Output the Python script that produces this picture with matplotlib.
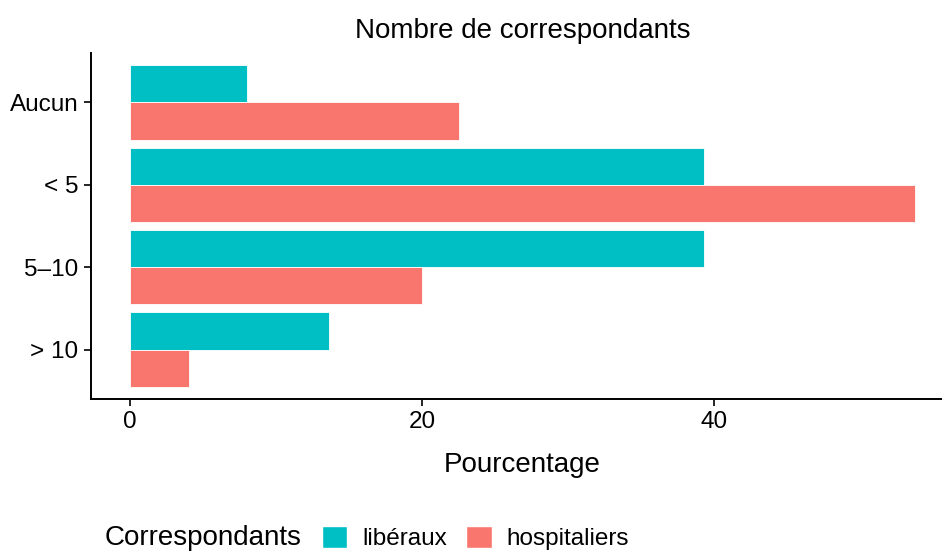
import matplotlib.pyplot as plt
from matplotlib.patches import Patch
import numpy as np

plt.rcParams['font.family'] = ['Liberation Sans', 'DejaVu Sans']

# Data
categories = ['Aucun', '< 5', '5–10', '> 10']
liberaux = [8.0, 39.3, 39.3, 13.6]
hospitaliers = [22.5, 53.7, 20.0, 4.0]
series_labels = ['libéraux', 'hospitaliers']
colors = ['#00BFC4', '#F8766D']

fig = plt.figure(figsize=(9.42, 5.51), dpi=100)
# axes run slightly past the right edge, like the cropped original
ax = fig.add_axes([91 / 942, 1 - 399 / 551, 863 / 942, (399 - 53) / 551])

y = np.arange(1, len(categories) + 1)
h = 0.45
ax.barh(y - h / 2, liberaux, height=h, color=colors[0], edgecolor='white', linewidth=0.6)
ax.barh(y + h / 2, hospitaliers, height=h, color=colors[1], edgecolor='white', linewidth=0.6)

ax.set_yticks(y)
ax.set_yticklabels(categories, fontsize=17.5)
ax.set_ylim(4.6, 0.4)
ax.set_xlim(-2.685, 56.4)
ax.set_xticks([0, 20, 40])
ax.tick_params(axis='x', labelsize=17.5, length=5, width=1.2, pad=4)
ax.tick_params(axis='y', length=5, width=1.2, pad=4)

for side in ['top', 'right']:
    ax.spines[side].set_visible(False)
for side in ['left', 'bottom']:
    ax.spines[side].set_linewidth(1.4)

ax.set_xlabel('Pourcentage', fontsize=20, labelpad=13.5)
ax.set_title('Nombre de correspondants', fontsize=20, pad=11)

# legend at the bottom
fig.text(105 / 942, 1 - 538 / 551, 'Correspondants', fontsize=20, va='center', ha='left')
handles = [Patch(facecolor=c, edgecolor='white') for c in colors]
fig.legend(handles, series_labels, ncol=2, frameon=False, fontsize=17.5,
           loc='center left', bbox_to_anchor=(300 / 942, 1 - 538 / 551),
           handlelength=1.05, handleheight=1.05, handletextpad=0.62, columnspacing=0.78)

fig.savefig('out.png', dpi=100)
